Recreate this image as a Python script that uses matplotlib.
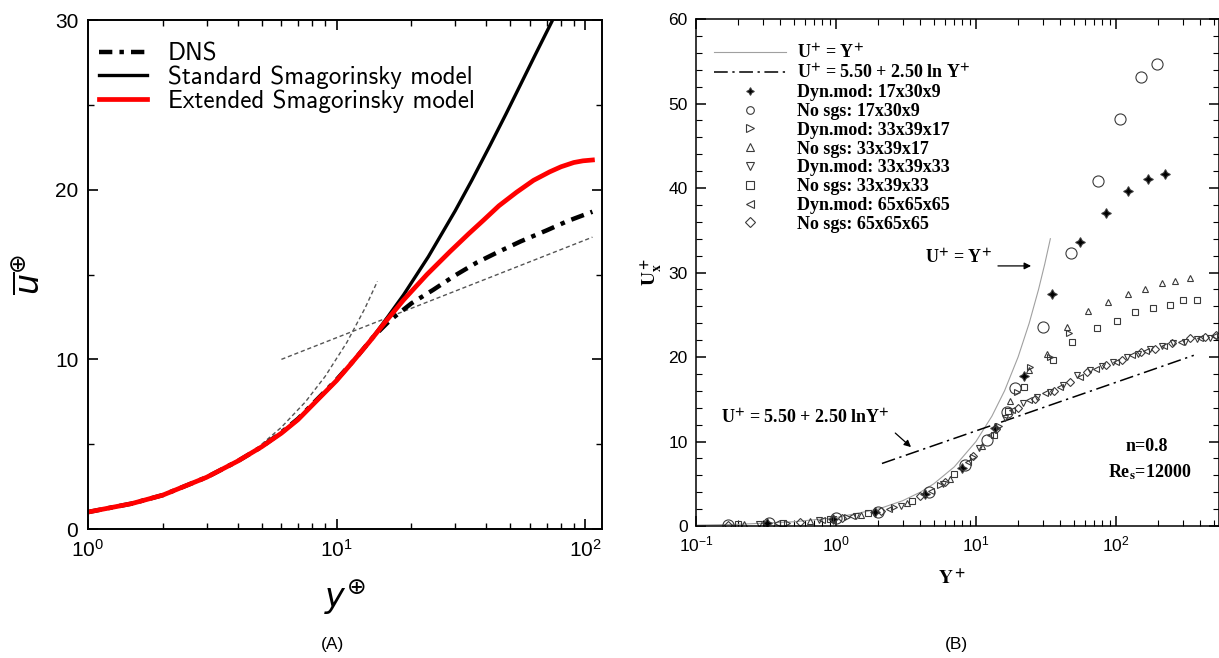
import matplotlib
matplotlib.use('Agg')
import matplotlib.pyplot as plt
from matplotlib.lines import Line2D
from matplotlib.font_manager import FontProperties
from matplotlib.ticker import MultipleLocator, LogLocator, NullFormatter

plt.rcParams['font.family'] = ['Liberation Sans', 'DejaVu Sans']
plt.rcParams['mathtext.fontset'] = 'custom'
plt.rcParams['mathtext.rm'] = 'Liberation Sans'
plt.rcParams['mathtext.it'] = 'Liberation Sans:italic'
plt.rcParams['mathtext.bf'] = 'Liberation Sans:bold'

# ---- panel A data ----
yp_dns = [1, 1.5, 2, 3, 4, 5, 6, 7, 8.3, 10, 12, 14, 16.4, 20, 24.5, 30, 36.6, 45, 55, 70, 85, 107]
u_dns = [1.0, 1.5, 2.0, 3.05, 4.0, 4.85, 5.7, 6.5, 7.6, 8.8, 10.1, 11.3, 12.3, 13.3, 14.1, 14.95,
         15.7, 16.35, 16.95, 17.6, 18.15, 18.7]

yp_std = [1, 1.5, 2, 3, 4, 5, 6, 7, 8.3, 10, 11.3, 13.5, 15.7, 18.6, 23.4, 30, 35, 41.4, 48, 55, 63,
          72.3, 80]
u_std = [1.0, 1.5, 2.0, 3.05, 4.0, 4.85, 5.65, 6.45, 7.55, 8.75, 9.65, 11.0, 12.3, 13.8, 16.05, 18.75,
         20.55, 22.6, 24.45, 26.2, 27.95, 29.7, 31.0]

yp_ext = [1, 1.5, 2, 3, 4, 5, 6, 7, 8.3, 10, 11.3, 13.5, 15.7, 18.6, 23.1, 28.6, 34, 39, 45, 53, 62,
          72, 80, 90, 98, 107]
u_ext = [1.0, 1.5, 2.0, 3.05, 4.0, 4.85, 5.65, 6.45, 7.55, 8.75, 9.65, 11.0, 12.2, 13.5, 15.0, 16.35,
         17.4, 18.2, 19.05, 19.85, 20.55, 21.05, 21.35, 21.6, 21.7, 21.75]

visc_y = [5.0, 6.0, 7.5, 9.0, 11.0, 13.0, 14.6]
visc_u = [5.0, 6.0, 7.5, 9.0, 11.0, 13.0, 14.6]
loglaw_y = [6, 107]
loglaw_u = [10.0, 17.2]

# ---- panel B data ----
visc_Y = [0.1, 0.2, 0.5, 1, 2, 3, 4, 5, 7, 10, 13, 16, 20, 24, 28, 31, 34]
visc_U = [0.1, 0.2, 0.5, 1, 2, 3, 4, 5, 7, 10, 13, 16, 20, 24, 28, 31, 34]
log_Y = [2.13, 360]
log_U = [7.4, 20.2]

Y1 = [0.32, 0.95, 1.9, 4.3, 8.0, 13.7, 22.0, 34.7, 55.3, 84.3, 122, 170, 226]
U1 = [0.3, 0.85, 1.6, 3.8, 6.9, 11.6, 17.7, 27.5, 33.6, 37.0, 39.6, 41.1, 41.6]
Y2 = [0.17, 0.33, 1.0, 2.0, 4.6, 8.4, 12.0, 16.6, 19.0, 30.3, 47.7, 73.9, 107, 150, 195]
U2 = [0.15, 0.3, 0.9, 1.7, 4.0, 7.2, 10.2, 13.5, 16.3, 23.6, 32.3, 40.8, 48.2, 53.1, 54.7]
Y3 = [0.45, 1.2, 2.6, 5.5, 9.5, 14.5, 19.5, 24.5, 33.8, 46.0]
U3 = [0.4, 1.1, 2.2, 4.8, 8.2, 11.8, 15.8, 18.8, 20.0, 22.8]
Y4 = [0.22, 0.65, 1.5, 3.2, 6.5, 11.0, 17.5, 24.0, 32.0, 44.4, 63.5, 88.1, 122, 161, 212, 264, 338]
U4 = [0.2, 0.6, 1.3, 2.7, 5.6, 9.5, 14.8, 18.5, 20.3, 23.6, 25.4, 26.5, 27.5, 28.1, 28.8, 29.0, 29.3]
Y5 = [0.28, 0.75, 1.4, 2.9, 5.8, 10.5, 16.0, 21.8, 27.1, 33.8, 42.1, 52.4, 65.2, 79.0, 95.7, 119, 144,
      175, 212, 257, 311, 377, 469]
U5 = [0.25, 0.7, 1.2, 2.4, 5.0, 9.2, 12.8, 14.5, 15.3, 15.9, 16.7, 17.9, 18.5, 18.9, 19.4, 20.0, 20.4,
      20.9, 21.3, 21.6, 21.8, 22.1, 22.3]
Y6 = [0.2, 0.42, 0.9, 1.7, 3.5, 7.0, 13.5, 17.0, 22.0, 35.7, 48.2, 72.8, 101, 137, 185, 243, 303, 377]
U6 = [0.18, 0.4, 0.8, 1.5, 3.0, 6.1, 10.8, 13.6, 16.5, 19.6, 21.8, 23.4, 24.3, 25.3, 25.8, 26.2, 26.7, 26.8]
Y7 = [0.38, 0.8, 1.3, 2.4, 4.8, 8.8, 12.5, 18.0, 24.0, 31, 40, 55, 72, 100, 130, 165, 220, 290, 400, 500]
U7 = [0.35, 0.75, 1.2, 2.0, 4.2, 7.6, 10.8, 13.7, 14.9, 15.7, 16.5, 17.6, 18.6, 19.4, 20.2, 20.7, 21.3,
      21.8, 22.2, 22.5]
Y8 = [0.17, 0.55, 1.1, 2.1, 4.0, 6.0, 9.5, 14.0, 20.0, 26.5, 36, 47, 62, 85, 110, 150, 190, 250, 340, 430, 520]
U8 = [0.15, 0.5, 1.0, 1.8, 3.5, 5.2, 8.3, 11.5, 14.0, 15.0, 16.0, 17.0, 18.2, 19.0, 19.7, 20.6, 21.0,
      21.6, 22.2, 22.4, 22.6]

labels_B = ['Dyn.mod: 17x30x9', 'No sgs: 17x30x9', 'Dyn.mod: 33x39x17', 'No sgs: 33x39x17',
            'Dyn.mod: 33x39x33', 'No sgs: 33x39x33', 'Dyn.mod: 65x65x65', 'No sgs: 65x65x65']
series_B = [(Y1, U1), (Y2, U2), (Y3, U3), (Y4, U4), (Y5, U5), (Y6, U6), (Y7, U7), (Y8, U8)]
markers_B = [(4, 1, 0), 'o', '>', '^', 'v', 's', '<', 'D']
msizes_B = [7, 8, 5, 5, 5, 4.5, 5, 4]

fig = plt.figure(figsize=(12.19, 6.58), dpi=100)
axA = fig.add_axes([0.0722, 0.196, 0.4217, 0.7736])
axB = fig.add_axes([0.571, 0.2006, 0.4290, 0.7705])

# ---------------- panel A ----------------
axA.plot(visc_y, visc_u, color='#555555', lw=1, ls=(0, (3, 2)))
axA.plot(loglaw_y, loglaw_u, color='#555555', lw=1, ls=(0, (3, 2)))
axA.plot(yp_dns, u_dns, color='k', lw=3.2, ls=(0, (3, 1.6, 1, 1.6)), label='DNS')
axA.plot(yp_std, u_std, color='k', lw=2.4, label='Standard Smagorinsky model')
axA.plot(yp_ext, u_ext, color='#ff0000', lw=3.4, label='Extended Smagorinsky model')
axA.set_xscale('log')
axA.set_xlim(1, 117)
axA.set_ylim(0, 30)
axA.yaxis.set_major_locator(MultipleLocator(10))
axA.yaxis.set_minor_locator(MultipleLocator(5))
axA.tick_params(which='both', direction='in', top=True, right=True, labelsize=15)
axA.tick_params(which='major', length=7, width=1.2, pad=7)
axA.tick_params(which='minor', length=4, width=1)
for s in axA.spines.values():
    s.set_linewidth(1.4)
axA.legend(loc='upper left', bbox_to_anchor=(-0.012, 0.99), frameon=False,
           prop={'family': ['cmss10', 'DejaVu Sans'], 'size': 18},
           handlelength=1.9, handletextpad=0.85, labelspacing=0.0, borderpad=0.2)
axA.set_xlabel(r'$y^{\oplus}$', fontsize=24, math_fontfamily='dejavusans')
axA.xaxis.set_label_coords(0.5, -0.095)
axA.set_ylabel(r'$\overline{u}^{\oplus}$', fontsize=24, math_fontfamily='dejavusans')
axA.yaxis.set_label_coords(-0.08, 0.5)

# ---------------- panel B ----------------
grey = '#a0a0a0'
dashdot = (0, (9, 3, 1.5, 3))
axB.plot(visc_Y, visc_U, color=grey, lw=0.8)
axB.plot(log_Y, log_U, color='k', lw=1.1, ls=dashdot)
for (yy, uu), m, ms in zip(series_B, markers_B, msizes_B):
    fc = 'k' if m == (4, 1, 0) else 'none'
    axB.plot(yy, uu, ls='none', marker=m, ms=ms, mfc=fc, mec='#3a3a3a', mew=0.8)

axB.set_xscale('log')
axB.set_xlim(0.1, 545)
axB.set_ylim(0, 60)
axB.xaxis.set_major_locator(LogLocator(base=10, numticks=10))
axB.xaxis.set_minor_locator(LogLocator(base=10, subs=range(2, 10), numticks=10))
axB.xaxis.set_minor_formatter(NullFormatter())
axB.yaxis.set_major_locator(MultipleLocator(10))
axB.yaxis.set_minor_locator(MultipleLocator(2))
axB.tick_params(which='both', direction='in', top=True, right=True, labelsize=12.5)
axB.tick_params(which='major', length=7, width=1.1, pad=6)
axB.tick_params(which='minor', length=4, width=0.8)
for s in axB.spines.values():
    s.set_linewidth(1.1)

serif_b = FontProperties(family='Liberation Serif', weight='bold', size=13, math_fontfamily='stix')
handles = [Line2D([], [], color=grey, lw=0.8), Line2D([], [], color='k', lw=1.1, ls=dashdot)]
for m in markers_B:
    fc = 'k' if m == (4, 1, 0) else 'none'
    handles.append(Line2D([], [], ls='none', marker=m, ms=5.5, mfc=fc, mec='#3a3a3a', mew=0.8))
leg_labels = [r'U$^{\mathbf{+}}$ = Y$^{\mathbf{+}}$',
              r'U$^{\mathbf{+}}$ = 5.50 + 2.50 ln Y$^{\mathbf{+}}$'] + labels_B
axB.legend(handles, leg_labels, loc='upper left', bbox_to_anchor=(0.01, 0.975), frameon=False,
           prop=serif_b, handlelength=4.0, handletextpad=0.6, labelspacing=0.1,
           borderpad=0.2, numpoints=1)

axB.text(0.501, 0.529, r'U$^{\mathbf{+}}$ = Y$^{\mathbf{+}}$', transform=axB.transAxes,
         ha='center', va='center', fontproperties=serif_b)
axB.annotate('', xy=(0.646, 0.513), xytext=(0.572, 0.513), xycoords='axes fraction',
             arrowprops=dict(arrowstyle='-|>', color='k', lw=0.9, mutation_scale=10))
axB.text(0.208, 0.213, r'U$^{\mathbf{+}}$ = 5.50 + 2.50 lnY$^{\mathbf{+}}$', transform=axB.transAxes,
         ha='center', va='center', fontproperties=serif_b)
axB.annotate('', xy=(0.415, 0.152), xytext=(0.377, 0.187), xycoords='axes fraction',
             arrowprops=dict(arrowstyle='-|>', color='k', lw=0.9, mutation_scale=10))
axB.text(0.862, 0.156, 'n=0.8', transform=axB.transAxes, ha='center', va='center',
         fontproperties=serif_b)
axB.text(0.868, 0.1065, r'Re$_{\mathbf{s}}$=12000', transform=axB.transAxes, ha='center',
         va='center', fontproperties=serif_b)

axB.set_xlabel(r'$\mathbf{Y^+}$', fontsize=14, math_fontfamily='stix')
axB.xaxis.set_label_coords(0.49, -0.087)
axB.set_ylabel(r'$\mathbf{U_x^+}$', fontsize=14, math_fontfamily='stix')
axB.yaxis.set_label_coords(-0.062, 0.5)

fig.text(0.2724, 0.0198, '(A)', ha='center', va='center', fontsize=12.5)
fig.text(0.7843, 0.0198, '(B)', ha='center', va='center', fontsize=12.5)

fig.savefig('out.png', dpi=100)
